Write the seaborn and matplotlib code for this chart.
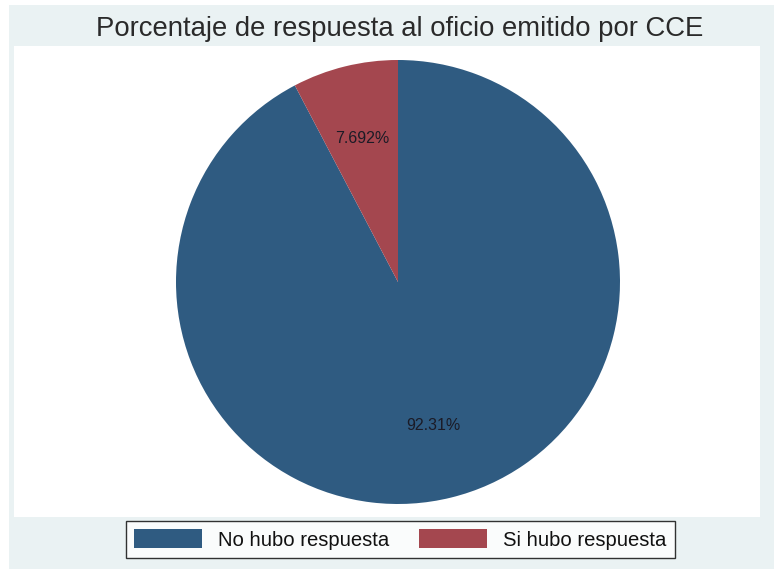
import matplotlib
matplotlib.use("Agg")
import matplotlib.pyplot as plt
from matplotlib.patches import Rectangle
import seaborn as sns

# datos
categorias = ['No hubo respuesta', 'Si hubo respuesta']
porcentajes = [92.31, 7.692]
etiquetas = ['92.31%', '7.692%']
colores = ['#2F5B81', '#A4474F']
titulo = 'Porcentaje de respuesta al oficio emitido por CCE'

sns.set_theme(style='white')
plt.rcParams['font.family'] = ['Liberation Sans', 'DejaVu Sans']

W, H = 774, 569
fig = plt.figure(figsize=(W / 100, H / 100), dpi=100)
fig.patch.set_facecolor('white')

# fondo azulado estilo stata
fig.patches.append(Rectangle((9 / W, 0), (W - 9) / W, (H - 5) / H,
                             transform=fig.transFigure, facecolor='#EAF2F3',
                             edgecolor='none', zorder=-10))
# region interior blanca
fig.patches.append(Rectangle((14 / W, (H - 517) / H), (760 - 14) / W, (517 - 46) / H,
                             transform=fig.transFigure, facecolor='white',
                             edgecolor='none', zorder=-9))

ax = fig.add_axes([176 / W, (H - 504) / H, 444 / W, 444 / H])
ax.set_facecolor('none')

wedges, textos = ax.pie(porcentajes, colors=colores, startangle=90, counterclock=False,
                        labels=etiquetas, labeldistance=0.665,
                        wedgeprops={'linewidth': 0},
                        textprops={'fontsize': 11.5, 'color': '#1b1b26', 'ha': 'center', 'va': 'center'})
ax.set_xlim(-1, 1)
ax.set_ylim(-1, 1)
ax.axis('off')

fig.text(400 / W, 1 - 29 / H, titulo, ha='center', va='center', fontsize=19.8, color='#2a2a2a')

leg = fig.legend(wedges, categorias, loc='center', bbox_to_anchor=(400.5 / W, 1 - 539.5 / H),
                 ncol=2, fontsize=14.6, frameon=True, fancybox=False,
                 handlelength=3.35, handleheight=1.0, handletextpad=0.8,
                 columnspacing=1.45, borderpad=0.4, borderaxespad=0)
leg.get_frame().set_edgecolor('black')
leg.get_frame().set_linewidth(1.0)
leg.get_frame().set_facecolor('white')
for t in leg.get_texts():
    t.set_color('#111111')

fig.savefig('out.png', dpi=100)
